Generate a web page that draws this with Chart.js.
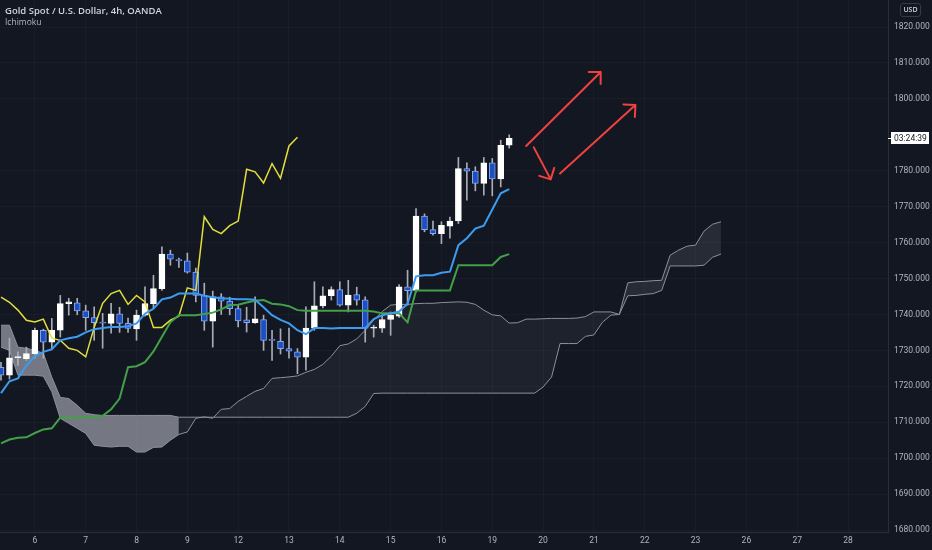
<!DOCTYPE html>
<html>
<head>
<meta charset="utf-8">
<script src="https://cdn.jsdelivr.net/npm/chart.js@4.4.1/dist/chart.umd.min.js"></script>
<style>
html, body { margin: 0; padding: 0; background: #131722; }
#wrap { position: relative; width: 932px; height: 550px; overflow: hidden; }
canvas { display: block; }
.title { position: absolute; left: 5px; top: 4px; font: 600 9.5px 'Open Sans', sans-serif; color: #d1d4dc; }
.ind { position: absolute; left: 5px; top: 16px; font: 8.5px 'Open Sans', sans-serif; color: #b2b5be; }
.usd { position: absolute; left: 900px; top: 3px; width: 19px; height: 12px; border: 1px solid #363a45; border-radius: 3px;
  font: 600 7px 'Open Sans', sans-serif; color: #d1d4dc; text-align: center; line-height: 12px; }
</style>
</head>
<body>
<div id="wrap">
  <canvas id="chart" width="932" height="550"></canvas>
  <div class="title">Gold Spot / U.S. Dollar, 4h, OANDA</div>
  <div class="ind">Ichimoku</div>
  <div class="usd">USD</div>
</div>
<script>
// 4h candles, one bar index per candle
const opens  = [1725.3, 1723.1, 1728.0, 1727.7, 1729.1, 1735.6, 1732.3, 1735.6, 1743.0, 1743.2,
                1741.0, 1739.1, 1737.9, 1737.5, 1740.2, 1737.5, 1736.0, 1739.8, 1743.0, 1747.2,
                1756.8, 1755.3, 1754.9, 1751.8, 1745.3, 1738.1, 1744.9, 1743.7, 1741.6, 1738.5,
                1737.7, 1738.6, 1732.9, 1732.5, 1730.5, 1729.6, 1728.1, 1736.2, 1742.4, 1745.2,
                1746.9, 1742.6, 1745.5, 1744.1, 1736.2, 1736.2, 1738.6, 1739.5, 1747.7, 1746.7,
                1767.4, 1763.6, 1762.5, 1764.6, 1766.0, 1780.6, 1779.9, 1776.5, 1782.2, 1777.7,
                1787.1];
const highs  = [1726.7, 1733.4, 1729.6, 1730.9, 1736.2, 1735.9, 1738.9, 1745.3, 1744.5, 1744.5,
                1742.6, 1742.1, 1740.3, 1743.1, 1742.0, 1739.0, 1741.2, 1747.7, 1750.9, 1758.8,
                1757.9, 1755.7, 1757.1, 1752.9, 1748.7, 1746.5, 1745.8, 1744.8, 1742.6, 1742.0,
                1744.9, 1739.8, 1735.6, 1736.0, 1736.2, 1730.5, 1742.1, 1749.1, 1747.7, 1747.7,
                1749.1, 1749.5, 1747.6, 1744.9, 1737.0, 1739.5, 1740.7, 1748.3, 1752.3, 1769.5,
                1768.0, 1766.0, 1765.8, 1767.1, 1783.7, 1782.2, 1781.1, 1783.7, 1783.4, 1788.5,
                1790.0];
const lows   = [1721.7, 1722.0, 1725.8, 1727.2, 1727.8, 1727.8, 1730.6, 1733.7, 1739.8, 1739.9,
                1735.6, 1732.8, 1730.6, 1734.8, 1735.0, 1735.0, 1732.8, 1739.5, 1741.7, 1746.7,
                1753.7, 1753.1, 1751.5, 1743.5, 1735.6, 1730.9, 1740.0, 1739.9, 1736.5, 1735.1,
                1737.5, 1730.0, 1727.2, 1729.0, 1727.8, 1723.5, 1724.5, 1735.6, 1741.8, 1744.0,
                1742.3, 1740.7, 1742.6, 1732.3, 1733.7, 1735.0, 1734.2, 1739.2, 1742.6, 1746.2,
                1763.0, 1762.1, 1759.7, 1761.2, 1765.3, 1771.8, 1774.4, 1773.2, 1773.0, 1775.5,
                1786.3];
const closes = [1723.1, 1727.9, 1728.3, 1729.1, 1735.6, 1732.3, 1735.6, 1743.0, 1743.5, 1741.0,
                1739.1, 1737.7, 1737.6, 1740.2, 1737.5, 1736.1, 1739.8, 1743.0, 1747.2, 1756.8,
                1755.4, 1754.9, 1751.8, 1745.3, 1738.1, 1744.9, 1743.7, 1741.6, 1738.2, 1737.7,
                1738.8, 1732.8, 1732.8, 1730.5, 1729.8, 1728.1, 1736.2, 1742.4, 1745.2, 1746.9,
                1742.6, 1745.4, 1744.0, 1736.2, 1736.3, 1738.6, 1739.8, 1747.7, 1746.6, 1767.4,
                1763.6, 1762.5, 1764.8, 1766.0, 1780.6, 1779.9, 1776.5, 1782.2, 1777.7, 1787.1,
                1789.0];

// Ichimoku lines
const tenkan = [1718.1, 1721.4, 1722.2, 1725.8, 1728.4, 1729.6, 1730.3, 1732.8, 1733.4, 1733.8,
                1735.0, 1735.9, 1736.2, 1736.5, 1736.5, 1736.7, 1737.5, 1740.2, 1741.6, 1744.2,
                1744.7, 1745.8, 1745.8, 1745.8, 1745.2, 1744.8, 1744.5, 1744.4, 1744.2, 1744.2,
                1744.1, 1742.0, 1739.8, 1738.5, 1737.5, 1735.6, 1734.5, 1736.2, 1736.2, 1736.1,
                1736.2, 1736.2, 1736.2, 1736.2, 1738.7, 1739.8, 1740.3, 1740.8, 1743.0, 1750.6,
                1750.9, 1750.9, 1751.6, 1751.9, 1759.3, 1761.2, 1763.9, 1764.7, 1769.2, 1773.7,
                1774.9];
const kijun  = [1704.1, 1705.2, 1705.7, 1705.8, 1707.0, 1708.0, 1708.3, 1711.3, 1711.3, 1711.3,
                1711.4, 1711.4, 1711.8, 1713.6, 1716.6, 1725.3, 1725.6, 1726.7, 1729.7, 1733.8,
                1737.8, 1739.8, 1739.8, 1739.8, 1740.1, 1740.5, 1741.4, 1742.6, 1742.7, 1743.3,
                1743.8, 1744.0, 1743.0, 1742.8, 1742.3, 1741.2, 1741.0, 1741.0, 1741.0, 1741.0,
                1741.0, 1741.0, 1741.0, 1741.0, 1740.8, 1740.3, 1740.3, 1740.3, 1737.8, 1746.7,
                1746.7, 1746.7, 1746.7, 1746.7, 1753.7, 1753.7, 1753.7, 1753.7, 1753.7, 1756.0,
                1756.8];
const chikou = [1744.8, 1743.4, 1741.2, 1738.4, 1737.9, 1738.7, 1733.4, 1732.8, 1730.6, 1730.0,
                1728.2, 1736.4, 1743.1, 1745.8, 1746.7, 1742.8, 1745.3, 1743.5, 1736.4, 1736.4,
                1738.4, 1739.5, 1747.4, 1746.7, 1767.2, 1763.7, 1762.5, 1764.7, 1766.0, 1780.4,
                1779.7, 1776.6, 1782.0, 1777.9, 1786.9, 1789.3];
const spanA  = [1730.9, 1730.0, 1723.1, 1723.1, 1723.1, 1722.8, 1718.5, 1711.1, 1709.7, 1708.3,
                1706.9, 1703.6, 1703.3, 1703.1, 1703.3, 1703.3, 1701.7, 1701.7, 1703.0, 1703.1,
                1705.0, 1706.6, 1707.3, 1711.1, 1711.5, 1711.1, 1713.6, 1713.8, 1715.8, 1717.2,
                1718.6, 1719.4, 1722.2, 1722.4, 1722.6, 1722.9, 1723.9, 1724.7, 1726.1, 1728.4,
                1731.3, 1731.8, 1733.2, 1735.6, 1738.4, 1740.8, 1742.6, 1742.8, 1742.8, 1743.0,
                1743.1, 1743.1, 1743.3, 1743.4, 1743.5, 1743.4, 1742.8, 1741.2, 1739.9, 1739.6,
                1737.6, 1737.7, 1738.7, 1738.7, 1738.8, 1738.9, 1738.9, 1738.9, 1739.0, 1739.4,
                1740.7, 1740.7, 1740.7, 1740.0, 1745.2, 1745.3, 1745.6, 1745.8, 1746.7, 1753.5,
                1753.5, 1753.5, 1753.5, 1753.7, 1755.9, 1756.8];
const spanB  = [1737.0, 1737.0, 1730.9, 1730.6, 1730.0, 1729.2, 1722.5, 1716.9, 1716.6, 1714.7,
                1712.5, 1712.1, 1711.9, 1711.9, 1711.9, 1711.9, 1711.9, 1711.9, 1711.9, 1711.9,
                1711.9, 1711.4, 1711.4, 1711.4, 1711.4, 1711.4, 1711.4, 1711.4, 1711.4, 1711.4,
                1711.4, 1711.4, 1711.4, 1711.4, 1711.4, 1711.4, 1711.4, 1711.4, 1711.4, 1711.4,
                1711.4, 1711.4, 1712.5, 1714.4, 1718.0, 1718.1, 1718.1, 1718.1, 1718.1, 1718.1,
                1718.1, 1718.1, 1718.1, 1718.1, 1718.1, 1718.1, 1718.1, 1718.1, 1718.1, 1718.1,
                1718.1, 1718.1, 1718.1, 1718.1, 1719.8, 1722.6, 1731.9, 1731.9, 1731.9, 1733.9,
                1734.3, 1737.8, 1739.8, 1740.0, 1748.8, 1749.1, 1749.2, 1749.4, 1749.5, 1756.5,
                1757.9, 1759.0, 1759.3, 1763.2, 1765.1, 1765.8];

// axis ticks (1790 sits under the countdown label)
const priceTicks = [1680, 1690, 1700, 1710, 1720, 1730, 1740, 1750, 1760, 1770, 1780, 1800, 1810, 1820];
const dayLabels = ['6', '7', '8', '9', '12', '13', '14', '15', '16', '19', '20', '21', '22', '23', '26', '27', '28'];
const dayTickBars = [4, 10, 16, 22, 28, 34, 40, 46, 52, 58, 64, 70, 76, 82, 88, 94, 100];

// hand-drawn arrows: [bar, price]
const arrowFrom = [[62.0, 1786.9], [62.9, 1786.5], [66.0, 1779.2]];
const arrowTo   = [[70.8, 1807.5], [64.9, 1777.6], [74.9, 1798.3]];
const countdown = '03:24:39';

// cloud shading ranges (bar index)
const cloudFills = [
  { from: 0, to: 21, color: 'rgba(178,181,190,0.62)' },
  { from: 21, to: 73, color: 'rgba(178,181,190,0.07)' },
  { from: 73, to: 85, color: 'rgba(178,181,190,0.13)' }
];

const pts = (arr) => arr.map((v, i) => ({ x: i, y: v }));
const UP = '#ffffff';
const DOWN = '#1e4fc2';
const DOWN_BORDER = '#86a8ee';

function lineDs(label, data, color, width, order) {
  return {
    type: 'line', label, data: pts(data), borderColor: color, borderWidth: width,
    pointRadius: 0, tension: 0, fill: false, order
  };
}

const datasets = [
  lineDs('Lead 1', spanA, '#8e919a', 1, 15),
  lineDs('Lead 2', spanB, '#8e919a', 1, 15)
];
cloudFills.forEach((seg) => {
  datasets.push({
    type: 'line',
    data: spanA.map((v, i) => ({ x: i, y: (i >= seg.from && i <= seg.to) ? v : null })),
    borderWidth: 0, pointRadius: 0, tension: 0, spanGaps: false,
    fill: { target: 1 }, backgroundColor: seg.color, order: 20
  });
});
datasets.push({
  type: 'bar',
  data: closes.map((c, i) => ({ x: i, y: [lows[i], highs[i]] })),
  backgroundColor: '#a9acb5', barThickness: 1, grouped: false, order: 12
});
datasets.push({
  type: 'bar',
  data: closes.map((c, i) => ({ x: i, y: [opens[i], c] })),
  backgroundColor: (ctx) => closes[ctx.dataIndex] >= opens[ctx.dataIndex] ? UP : DOWN,
  borderColor: (ctx) => closes[ctx.dataIndex] >= opens[ctx.dataIndex] ? UP : DOWN_BORDER,
  borderWidth: 1, borderSkipped: false, barThickness: 6, minBarLength: 1, grouped: false, order: 11
});
datasets.push(lineDs('Lagging Span', chikou, '#e3df3a', 1.5, 5));
datasets.push(lineDs('Base Line', kijun, '#43a047', 2, 4));
datasets.push(lineDs('Conversion Line', tenkan, '#3d9cf0', 2, 3));

const arrowPlugin = {
  id: 'arrows',
  afterDatasetsDraw(chart) {
    const { ctx, chartArea, scales: { x, y } } = chart;
    ctx.save();
    ctx.beginPath();
    ctx.rect(chartArea.left, chartArea.top, chartArea.right - chartArea.left, chartArea.bottom - chartArea.top);
    ctx.clip();
    ctx.strokeStyle = '#f0423f';
    ctx.lineWidth = 2;
    ctx.lineCap = 'round';
    arrowFrom.forEach((f, k) => {
      const t = arrowTo[k];
      const x1 = x.getPixelForValue(f[0]), y1 = y.getPixelForValue(f[1]);
      const x2 = x.getPixelForValue(t[0]), y2 = y.getPixelForValue(t[1]);
      const ang = Math.atan2(y2 - y1, x2 - x1);
      ctx.beginPath();
      ctx.moveTo(x1, y1);
      ctx.lineTo(x2, y2);
      [Math.PI * 0.75, -Math.PI * 0.75].forEach((d) => {
        ctx.moveTo(x2, y2);
        ctx.lineTo(x2 + 12 * Math.cos(ang + d), y2 + 12 * Math.sin(ang + d));
      });
      ctx.stroke();
    });
    ctx.restore();
  },
  afterDraw(chart) {
    const { ctx, chartArea, scales: { y } } = chart;
    const yp = Math.round(y.getPixelForValue(closes[closes.length - 1]));
    const left = chartArea.right + 1;
    ctx.save();
    ctx.strokeStyle = '#ffffff';
    ctx.lineWidth = 1;
    ctx.beginPath();
    ctx.moveTo(chartArea.right, yp + 0.5);
    ctx.lineTo(left + 3, yp + 0.5);
    ctx.stroke();
    ctx.fillStyle = '#ffffff';
    ctx.fillRect(left + 2, yp - 6, 38, 12);
    ctx.fillStyle = '#131722';
    ctx.font = '8.5px Roboto';
    ctx.textBaseline = 'middle';
    ctx.textAlign = 'left';
    ctx.fillText(countdown, left + 5, yp + 0.5);
    ctx.restore();
  }
};

new Chart(document.getElementById('chart'), {
  type: 'bar',
  data: { datasets },
  options: {
    responsive: false,
    animation: false,
    devicePixelRatio: 1,
    layout: { padding: 0 },
    plugins: { legend: { display: false }, tooltip: { enabled: false } },
    scales: {
      x: {
        type: 'linear', min: -0.118, max: 104.72, offset: false,
        afterFit: (s) => { s.height = 18; s.paddingLeft = 0; s.paddingRight = 0; },
        afterBuildTicks: (s) => { s.ticks = dayTickBars.map((v) => ({ value: v })); },
        grid: { color: 'rgba(42,46,57,0.25)', drawTicks: false, offset: false },
        border: { color: '#2a2e39' },
        ticks: {
          autoSkip: false, maxRotation: 0, padding: 4, color: '#b2b5be',
          font: { family: 'Roboto', size: 8.5 },
          callback: (v, i) => dayLabels[i]
        }
      },
      y: {
        position: 'right', min: 1679.45, max: 1827.52,
        afterFit: (s) => { s.width = 44; s.paddingTop = 0; s.paddingBottom = 0; },
        afterBuildTicks: (s) => { s.ticks = priceTicks.map((v) => ({ value: v })); },
        grid: { color: 'rgba(42,46,57,0.25)', drawTicks: false },
        border: { color: '#2a2e39' },
        ticks: {
          padding: 6, color: '#b2b5be',
          font: { family: 'Roboto', size: 8.5 },
          callback: (v) => Number(v).toFixed(3)
        }
      }
    }
  },
  plugins: [arrowPlugin]
});
</script>
</body>
</html>
